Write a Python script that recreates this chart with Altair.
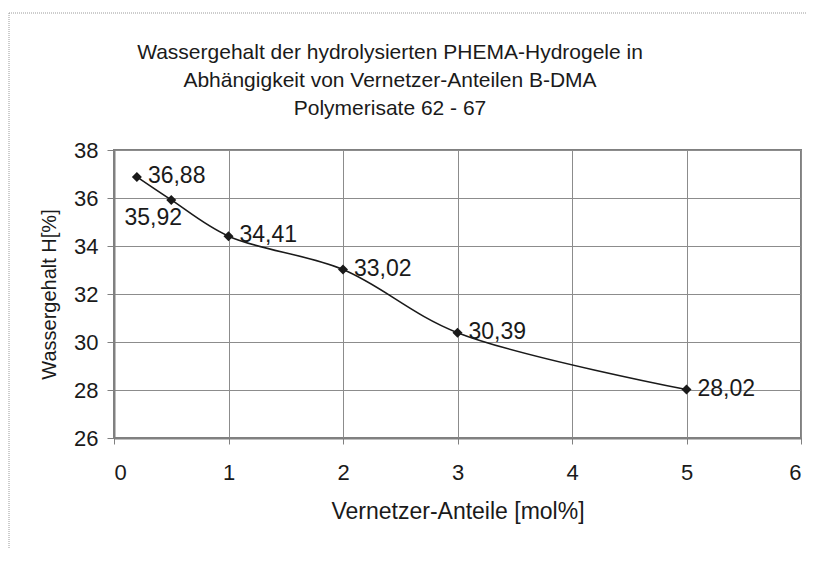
import altair as alt
import pandas as pd

x_vals = [0.2, 0.5, 1, 2, 3, 5]
y_vals = [36.88, 35.92, 34.41, 33.02, 30.39, 28.02]
labels = ["36,88", "35,92", "34,41", "33,02", "30,39", "28,02"]
below_left = ["35,92"]

title_lines = [
    "Wassergehalt der hydrolysierten PHEMA-Hydrogele in",
    "Abhängigkeit von Vernetzer-Anteilen B-DMA",
    "Polymerisate 62 - 67",
]
x_title = "Vernetzer-Anteile [mol%]"
y_title = "Wassergehalt H[%]"

df = pd.DataFrame({"x": x_vals, "y": y_vals, "label": labels})
df["pos"] = ["bl" if l in below_left else "r" for l in labels]
one_row = pd.DataFrame({"k": [0]})

FONT = "Liberation Sans"
INK = "#1a1a1a"

xs = alt.Scale(domain=[0, 6], nice=False, zero=False)
ys = alt.Scale(domain=[26, 38], nice=False, zero=False)

X = alt.X("x:Q", scale=xs, title=x_title,
          axis=alt.Axis(values=[0, 1, 2, 3, 4, 5, 6], format="d", grid=True,
                        tickSize=6, labelPadding=18, titlePadding=17,
                        labelFontSize=22, titleFontSize=23))
Y = alt.Y("y:Q", scale=ys, title=y_title,
          axis=alt.Axis(values=[26, 28, 30, 32, 34, 36, 38], format="d", grid=True,
                        tickSize=7, labelPadding=9, titlePadding=14,
                        labelFontSize=22, titleFontSize=20))

base = alt.Chart(df)

line = base.mark_line(interpolate="catmull-rom", color=INK, strokeWidth=1.6).encode(x=X, y=Y)
pts = base.mark_point(shape="diamond", filled=True, size=100, color=INK, opacity=1).encode(x="x:Q", y="y:Q")

txt_r = base.transform_filter(alt.datum.pos == "r").mark_text(
    align="left", baseline="middle", dx=11, dy=-1, font=FONT, fontSize=23, color=INK
).encode(x="x:Q", y="y:Q", text="label:N")
txt_bl = base.transform_filter(alt.datum.pos == "bl").mark_text(
    align="center", baseline="middle", dx=-18, dy=18, font=FONT, fontSize=23, color=INK
).encode(x="x:Q", y="y:Q", text="label:N")

title_txt = alt.Chart(one_row).mark_text(
    text=title_lines, font=FONT, fontSize=21, fontWeight="normal", lineHeight=28,
    align="center", baseline="alphabetic", color=INK
).encode(x=alt.value(276), y=alt.value(-91))

frame_top = alt.Chart(one_row).mark_rule(color="#9a9a9a", strokeWidth=1, strokeDash=[1, 1]).encode(
    x=alt.value(-105), x2=alt.value(720), y=alt.value(-137))
frame_left = alt.Chart(one_row).mark_rule(color="#9a9a9a", strokeWidth=1, strokeDash=[1, 1]).encode(
    x=alt.value(-105), y=alt.value(-137), y2=alt.value(500))

chart = alt.layer(frame_top, frame_left, title_txt, line, pts, txt_r, txt_bl).properties(
    width=687,
    height=288,
    autosize=alt.AutoSizeParams(type="none"),
    padding={"left": 106, "top": 142, "right": 5, "bottom": 110},
).configure_view(
    stroke="#808080", strokeWidth=2
).configure_axis(
    labelFont=FONT, titleFont=FONT,
    titleFontWeight="normal", labelColor=INK, titleColor=INK,
    gridColor="#8c8c8c", gridWidth=1, domainColor="#808080", domainWidth=2,
    tickColor="#808080", tickWidth=1,
)

chart.save("out.html", embed_options={"renderer": "svg", "actions": False})
